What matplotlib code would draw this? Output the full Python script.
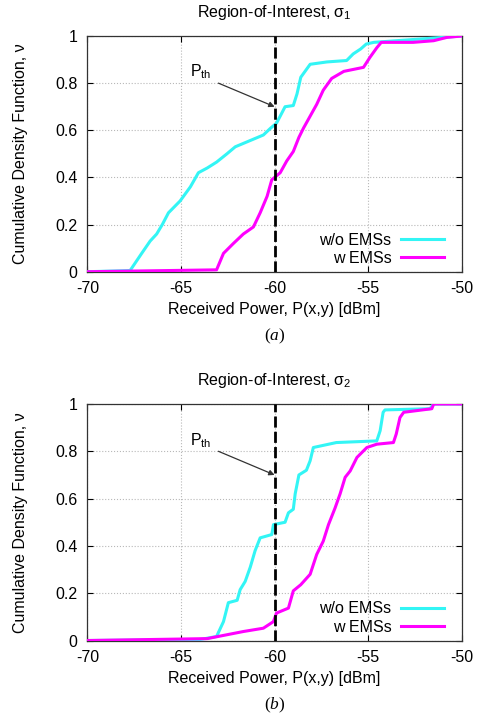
import matplotlib
matplotlib.use("Agg")
import matplotlib.pyplot as plt

plt.rcParams['font.family'] = ['Liberation Sans', 'DejaVu Sans']
plt.rcParams['mathtext.fontset'] = 'custom'
plt.rcParams['mathtext.rm'] = 'Liberation Serif'
plt.rcParams['mathtext.it'] = 'Liberation Serif:italic'
plt.rcParams['mathtext.sf'] = 'Liberation Sans'
plt.rcParams['axes.unicode_minus'] = False

# -------- datos (dBm, CDF) --------
# sigma 1, sin EMSs
x1_sin = [-70, -67.72, -67.1, -66.65, -66.3, -66.0, -65.67, -65.05, -64.5, -64.07, -63.6,
          -63.1, -62.55, -62.1, -61.5, -60.6, -60.2, -59.9, -59.7, -59.44, -59.0, -58.8,
          -58.6, -58.1, -57.2, -56.15, -55.8, -55.4, -55.1, -54.7, -53.5, -51.7, -50]
y1_sin = [0, 0.005, 0.078, 0.13, 0.16, 0.2, 0.25, 0.30, 0.36, 0.42, 0.44,
          0.465, 0.50, 0.53, 0.55, 0.58, 0.61, 0.63, 0.66, 0.70, 0.705, 0.755,
          0.825, 0.88, 0.89, 0.896, 0.924, 0.945, 0.966, 0.973, 0.98, 0.99, 1.0]
# sigma 1, con EMSs
x1_con = [-70, -63.1, -62.73, -62.2, -61.67, -61.13, -60.77, -60.4, -60.15, -59.7, -59.35,
          -59.0, -58.7, -58.45, -58.1, -57.75, -57.4, -56.95, -56.3, -55.25, -54.9,
          -54.54, -54.3, -52.6, -51.5, -50.8, -50]
y1_con = [0, 0.008, 0.078, 0.12, 0.16, 0.19, 0.25, 0.32, 0.39, 0.42, 0.47,
          0.51, 0.57, 0.61, 0.66, 0.71, 0.77, 0.82, 0.85, 0.867, 0.91,
          0.95, 0.973, 0.973, 0.98, 0.994, 1.0]
# sigma 2, sin EMSs
x2_sin = [-70, -64.0, -63.1, -62.73, -62.47, -62.0, -61.84, -61.57, -61.3, -61.04, -60.77,
          -60.15, -60.06, -59.44, -59.26, -59.0, -58.9, -58.7, -58.3, -58.1, -57.93,
          -56.7, -54.54, -54.36, -54.2, -54.1, -51.7, -51.5, -50]
y2_sin = [0, 0.004, 0.017, 0.08, 0.16, 0.17, 0.215, 0.25, 0.31, 0.38, 0.434,
          0.448, 0.49, 0.50, 0.54, 0.555, 0.62, 0.70, 0.72, 0.76, 0.816,
          0.837, 0.844, 0.887, 0.965, 0.975, 0.98, 1.0, 1.0]
# sigma 2, con EMSs
x2_con = [-70, -63.6, -61.67, -60.6, -60.06, -59.9, -59.26, -59.0, -58.6, -58.1, -57.75,
          -57.4, -57.12, -56.77, -56.5, -56.23, -55.96, -55.6, -55.07, -54.54, -53.65,
          -53.5, -53.3, -53.1, -51.6, -51.5, -50]
y2_con = [0, 0.008, 0.038, 0.052, 0.08, 0.116, 0.137, 0.21, 0.236, 0.28, 0.364,
          0.42, 0.49, 0.56, 0.62, 0.69, 0.717, 0.774, 0.816, 0.83, 0.837,
          0.873, 0.943, 0.965, 0.98, 1.0, 1.0]

p_th = -60
flecha_inicio = (-63.0, 0.8)
flecha_fin = (-60.0, 0.7)

paneles = [
    (r'Region-of-Interest, $\mathsf{\sigma_1}$', x1_sin, y1_sin, x1_con, y1_con, r'$(a)$'),
    (r'Region-of-Interest, $\mathsf{\sigma_2}$', x2_sin, y2_sin, x2_con, y2_con, r'$(b)$'),
]
xticks = [-70, -65, -60, -55, -50]
yticks = [0, 0.2, 0.4, 0.6, 0.8, 1]
yticklabels = ['0', '0.2', '0.4', '0.6', '0.8', '1']

fig = plt.figure(figsize=(4.83, 7.2), dpi=100)
posiciones = [[0.181, 0.6226, 0.775, 0.3274], [0.181, 0.1104, 0.775, 0.3285]]

for pos, (titulo, xs, ys, xc, yc, etiqueta) in zip(posiciones, paneles):
    ax = fig.add_axes(pos)
    ax.plot(xs, ys, color='#33f5f5', lw=2.2, label='w/o EMSs', zorder=3)
    ax.plot(xc, yc, color='#ff00ff', lw=2.2, label='w EMSs', zorder=3)
    ax.axvline(p_th, color='black', ls=(0, (4, 1.5)), lw=2, zorder=4)
    ax.set_xlim(-70, -50)
    ax.set_ylim(0, 1)
    ax.set_xticks(xticks)
    ax.set_yticks(yticks)
    ax.set_yticklabels(yticklabels)
    ax.tick_params(direction='in', top=True, right=True, labelsize=11.5, length=4, pad=7)
    ax.grid(color='#b8b8b8', linestyle=':', linewidth=0.8)
    for s in ax.spines.values():
        s.set_color('#333333')
        s.set_linewidth(0.9)
    ax.set_title(titulo, fontsize=11.5, pad=14)
    ax.set_xlabel('Received Power, P(x,y) [dBm]', fontsize=11.5, labelpad=4)
    ax.set_ylabel('Cumulative Density Function, ν', fontsize=11.5)
    ax.yaxis.set_label_coords(-0.158, 0.5)
    ax.annotate('', xy=flecha_fin, xytext=flecha_inicio,
                arrowprops=dict(arrowstyle='-|>', color='#333333', lw=0.9, mutation_scale=8,
                                shrinkA=0, shrinkB=0), zorder=5)
    ax.text(-63.35, 0.826, r'P$_{\mathsf{th}}$', fontsize=11.5, ha='right', va='baseline')
    ax.text(0.5, -0.276, etiqueta, transform=ax.transAxes, ha='center', va='center', fontsize=12.5)
    ax.legend(loc='lower right', bbox_to_anchor=(0.953, 0.025), frameon=False,
              markerfirst=False, fontsize=11.5, handlelength=2.7, handletextpad=0.6,
              labelspacing=0.2, borderpad=0, borderaxespad=0)

fig.savefig('out.png', dpi=100)
